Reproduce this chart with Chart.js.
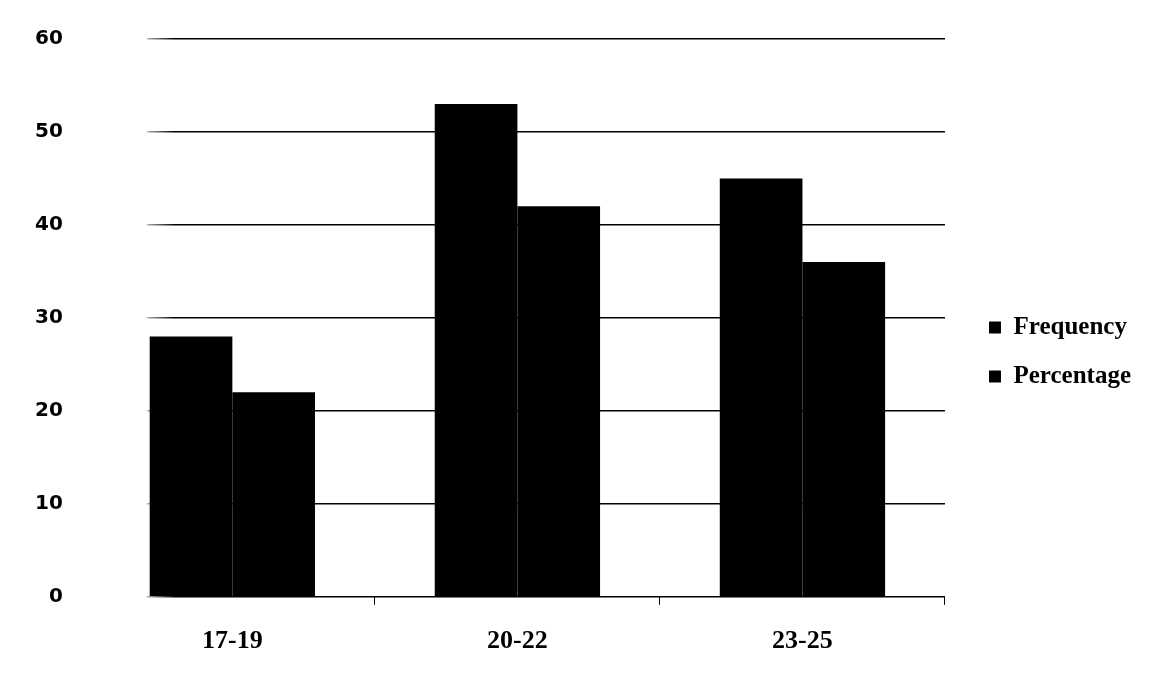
<!DOCTYPE html>
<html>
<head>
<meta charset="utf-8">
<title>Age groups</title>
<script src="https://cdn.jsdelivr.net/npm/chart.js@4.4.1/dist/chart.umd.min.js"></script>
<style>
  html, body { margin: 0; padding: 0; background: #fff; }
  #wrap { width: 1158px; height: 683px; position: relative; }
</style>
</head>
<body>
<div id="wrap"><canvas id="age-chart"></canvas></div>
<script>
var ageGroups = ['17-19', '20-22', '23-25'];
var frequencyData = [28, 53, 45];
var percentageData = [22, 42, 36];
var yTicks = [0, 10, 20, 30, 40, 50, 60];

// push the legend a little further from the plot area and nudge it up
var legendGap = {
    id: 'legendGap',
    afterLayout: function(chart) {
        var legend = chart.legend;
        if (legend) {
            legend.left += 20;
            legend.right += 20;
            legend.top -= 6;
            legend.bottom -= 6;
        }
    }
};

// horizontal lines are washed out on the far left of the plot
var gridGradient = null;
function gridColor(context) {
    var chart = context.chart;
    var area = chart.chartArea;
    if (!area) {
        return '#000';
    }
    if (!gridGradient) {
        gridGradient = chart.ctx.createLinearGradient(area.left, 0, area.right, 0);
        gridGradient.addColorStop(0, 'rgba(0,0,0,0)');
        gridGradient.addColorStop(0.066, 'rgba(0,0,0,0)');
        gridGradient.addColorStop(0.068, 'rgba(0,0,0,0.35)');
        gridGradient.addColorStop(0.1, '#000');
        gridGradient.addColorStop(1, '#000');
    }
    return gridGradient;
}

document.addEventListener("DOMContentLoaded", function() {
    var serif = '"Liberation Serif", "Times New Roman", serif';

    new Chart(document.getElementById("age-chart"), {
        type: 'bar',
        data: {
            labels: ageGroups,
            datasets: [
                {
                    label: 'Frequency',
                    data: frequencyData,
                    backgroundColor: '#000',
                    borderWidth: 0,
                    categoryPercentage: 0.58,
                    barPercentage: 1.0
                },
                {
                    label: 'Percentage',
                    data: percentageData,
                    backgroundColor: '#000',
                    borderWidth: 0,
                    categoryPercentage: 0.58,
                    barPercentage: 1.0
                }
            ]
        },
        options: {
            responsive: true,
            maintainAspectRatio: false,
            animation: false,
            layout: {
                padding: { left: 8, top: 38, right: 37, bottom: 5 }
            },
            scales: {
                x: {
                    offset: true,
                    grid: {
                        display: true,
                        drawOnChartArea: false,
                        drawTicks: true,
                        tickLength: 8,
                        color: function(ctx) {
                            return ctx.index === 0 ? 'rgba(0,0,0,0)' : '#000';
                        },
                        lineWidth: 1
                    },
                    border: { display: false },
                    ticks: {
                        color: '#000',
                        padding: 21,
                        font: { family: serif, size: 26, weight: 'bold' }
                    }
                },
                y: {
                    min: 0,
                    max: 60,
                    afterBuildTicks: function(scale) {
                        scale.ticks = yTicks.map(function(v) { return { value: v }; });
                    },
                    grid: {
                        color: gridColor,
                        lineWidth: 1.5,
                        drawTicks: false
                    },
                    border: { display: false },
                    ticks: {
                        color: '#000',
                        padding: 27,
                        font: { family: '"DejaVu Sans", sans-serif', size: 20, weight: 'bold' }
                    }
                }
            },
            plugins: {
                legend: {
                    display: true,
                    position: 'right',
                    labels: {
                        color: '#000',
                        boxWidth: 12,
                        boxHeight: 12,
                        padding: 24,
                        font: { family: serif, size: 25, weight: 'bold' }
                    }
                },
                tooltip: { enabled: false },
                title: { display: false }
            }
        },
        plugins: [legendGap]
    });
});
</script>
</body>
</html>
